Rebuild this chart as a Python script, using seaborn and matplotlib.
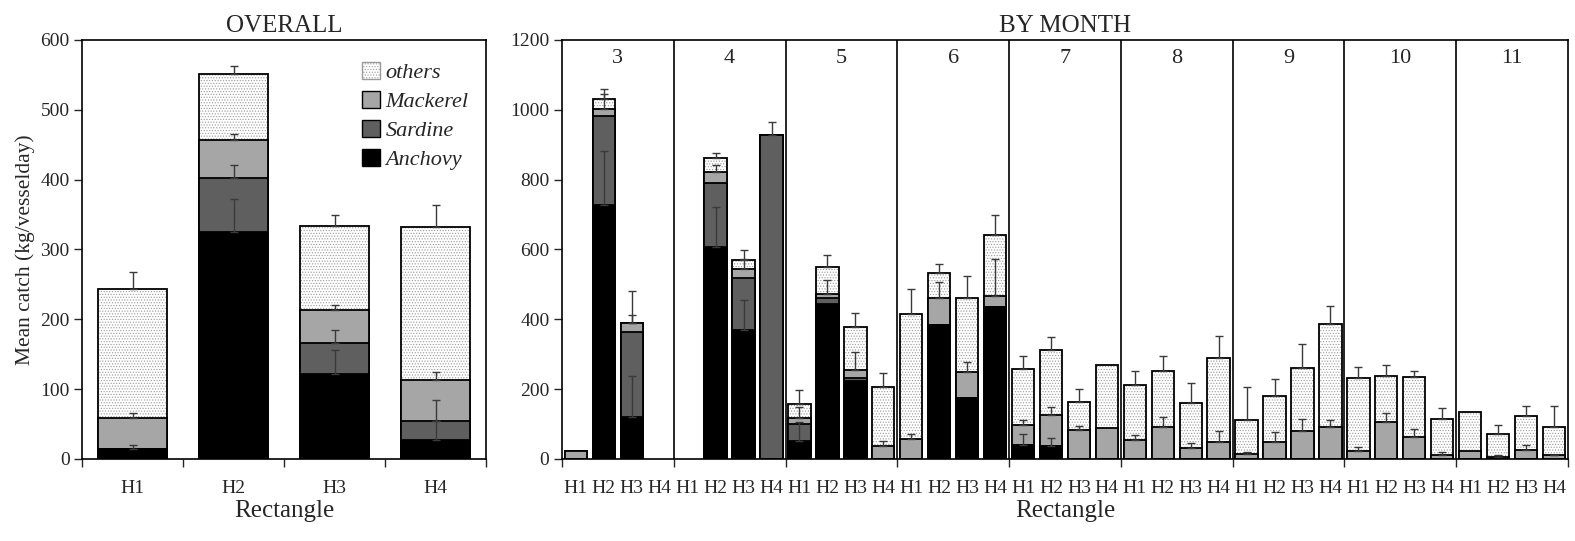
import numpy as np
import pandas as pd
import matplotlib
matplotlib.use("Agg")
import matplotlib.pyplot as plt
from matplotlib.patches import Patch
import seaborn as sns

# overall panel, one value per rectangle
rects = ["H1", "H2", "H3", "H4"]
all_anchovy = [15, 325, 122, 27]
all_sardine = [0, 77, 44, 28]
all_mackerel = [44, 55, 48, 58]
all_others = [185, 94, 119, 219]
all_err_total = [24, 12, 17, 32]
all_err_mackerel = [7, 8, 7, 12]
all_err_sardine = [0, 19, 19, 29]
all_err_anchovy = [5, 47, 34, 27]

# by month panel, 4 rectangles per month
months = [3, 4, 5, 6, 7, 8, 9, 10, 11]
m_anchovy = [0, 727, 120, 0,   0, 607, 370, 0,   52, 444, 222, 0,   0, 384, 176, 436,
             39, 37, 0, 0,     0, 0, 0, 0,       0, 0, 0, 0,        0, 0, 0, 0,     0, 0, 0, 0]
m_sardine = [0, 256, 243, 0,   0, 182, 148, 928, 48, 17, 10, 0,     0, 0, 0, 0,
             0, 0, 0, 0,       0, 0, 0, 0,       0, 0, 0, 0,        0, 0, 0, 0,     0, 0, 0, 0]
m_mackerel = [22, 19, 27, 0,   0, 32, 27, 0,     17, 11, 23, 37,    58, 77, 73, 31,
              58, 90, 83, 89,  53, 93, 31, 50,   13, 48, 79, 93,    22, 106, 62, 10, 22, 7, 27, 10]
m_others = [0, 29, 0, 0,       0, 42, 24, 0,     40, 78, 123, 169,  358, 72, 212, 174,
            162, 186, 79, 180, 160, 159, 128, 238, 98, 131, 182, 295, 209, 131, 172, 104, 112, 64, 95, 81]
m_err_total = [0, 29, 21, 0,   0, 13, 29, 38,    40, 34, 40, 40,    72, 26, 64, 57,
               36, 36, 39, 0,  39, 42, 59, 65,   95, 49, 67, 50,    33, 31, 19, 33,  0, 25, 29, 60]
m_err_mackerel = [0, 44, 90, 0, 0, 20, 29, 0,    31, 40, 52, 14,    14, 45, 29, 105,
                  15, 21, 12, 0, 17, 27, 15, 29, 6, 28, 35, 19,     11, 25, 23, 9,   0, 3, 12, 2]
m_err_anchovy = [0, 156, 119, 0, 0, 114, 84, 0,  53, 0, 0, 0,       0, 0, 0, 0,
                 32, 23, 0, 0,  0, 0, 0, 0,      0, 0, 0, 0,        0, 0, 0, 0,      0, 0, 0, 0]

C_ANCHOVY = "#000000"
C_SARDINE = "#5f5f5f"
C_MACKEREL = "#a6a6a6"
C_ERR = "#3a3a3a"
C_DOTS = "#9a9a9a"

sns.set_style("ticks")
plt.rcParams["font.family"] = ["Liberation Serif", "DejaVu Serif"]
plt.rcParams["hatch.linewidth"] = 0.5
plt.rcParams["hatch.color"] = C_DOTS


def stacked(ax, df, order, width):
    df = df.copy()
    df["c_anch"] = df["anchovy"]
    df["c_sard"] = df["c_anch"] + df["sardine"]
    df["c_mack"] = df["c_sard"] + df["mackerel"]
    df["c_tot"] = df["c_mack"] + df["others"]
    # empty slots get no bar at all
    for c in ["c_anch", "c_sard", "c_mack", "c_tot"]:
        df[c] = df[c].where(df[c] > 0)
    common = dict(data=df, x="slot", order=order, width=width, errorbar=None, ax=ax)
    sns.barplot(y="c_tot", color="white", edgecolor=C_DOTS, hatch="......", linewidth=0, **common)
    sns.barplot(y="c_tot", color="black", fill=False, linewidth=1.3, **common)
    sns.barplot(y="c_mack", color=C_MACKEREL, edgecolor="black", linewidth=1.3, saturation=1, **common)
    sns.barplot(y="c_sard", color=C_SARDINE, edgecolor="black", linewidth=1.3, saturation=1, **common)
    sns.barplot(y="c_anch", color=C_ANCHOVY, edgecolor="black", linewidth=1.3, saturation=1, **common)
    xs = np.arange(len(order))
    for top, err in [("c_tot", "e_tot"), ("c_mack", "e_mack"), ("c_sard", "e_sard"), ("c_anch", "e_anch")]:
        m = df[err].to_numpy() > 0
        ax.errorbar(xs[m], df[top].to_numpy()[m], yerr=[np.zeros(m.sum()), df[err].to_numpy()[m]],
                    fmt="none", ecolor=C_ERR, elinewidth=1.0, capsize=3, capthick=1.0)


fig = plt.figure(figsize=(15.75, 5.41), dpi=100)
ax1 = fig.add_axes([0.0521, 0.1516, 0.2565, 0.7745])
ax2 = fig.add_axes([0.3568, 0.1516, 0.6387, 0.7745])

# ---- overall
df1 = pd.DataFrame({
    "slot": rects, "anchovy": all_anchovy, "sardine": all_sardine,
    "mackerel": all_mackerel, "others": all_others,
    "e_tot": all_err_total, "e_mack": all_err_mackerel,
    "e_sard": all_err_sardine, "e_anch": all_err_anchovy,
})
stacked(ax1, df1, rects, 0.68)
ax1.set_xlim(-0.5, 3.5)
ax1.set_ylim(0, 600)
ax1.set_yticks(range(0, 601, 100))
ax1.set_xticks(np.arange(4))
ax1.set_xticklabels(rects)
ax1.set_xticks(np.arange(-0.5, 4, 1), minor=True)
ax1.tick_params(axis="x", which="major", length=0, pad=15, labelsize=14)
ax1.tick_params(axis="x", which="minor", length=6, width=1, direction="out")
ax1.tick_params(axis="y", length=6, width=1, direction="out", labelsize=14, pad=3)
ax1.set_xlabel("Rectangle", fontsize=18, labelpad=2)
ax1.set_ylabel("Mean catch (kg/vesselday)", fontsize=15.5, labelpad=4)
ax1.set_title("OVERALL", fontsize=18, pad=6)

handles = [Patch(facecolor="white", edgecolor=C_DOTS, hatch="......", label="others"),
           Patch(facecolor=C_MACKEREL, edgecolor="black", label="Mackerel"),
           Patch(facecolor=C_SARDINE, edgecolor="black", label="Sardine"),
           Patch(facecolor=C_ANCHOVY, edgecolor="black", label="Anchovy")]
ax1.legend(handles=handles, loc="upper left", bbox_to_anchor=(0.655, 0.985), frameon=False,
           prop={"style": "italic", "size": 16}, handlelength=0.8, handleheight=0.8,
           labelspacing=0.35, handletextpad=0.25, borderpad=0.2)

# ---- by month
slots = [f"{m}-{r}" for m in months for r in rects]
df2 = pd.DataFrame({
    "slot": slots, "anchovy": m_anchovy, "sardine": m_sardine,
    "mackerel": m_mackerel, "others": m_others,
    "e_tot": m_err_total, "e_mack": m_err_mackerel,
    "e_sard": [0] * len(slots), "e_anch": m_err_anchovy,
})
stacked(ax2, df2, slots, 0.8)
ax2.set_xlim(-0.5, len(slots) - 0.5)
ax2.set_ylim(0, 1200)
ax2.set_yticks(range(0, 1201, 200))
ax2.set_xticks(np.arange(len(slots)))
ax2.set_xticklabels(rects * len(months))
ax2.set_xticks(np.arange(-0.5, len(slots), 4), minor=True)
ax2.tick_params(axis="x", which="major", length=0, pad=15, labelsize=14)
ax2.tick_params(axis="x", which="minor", length=6, width=1, direction="out")
ax2.tick_params(axis="y", length=6, width=1, direction="out", labelsize=14, pad=3)
for i, m in enumerate(months):
    if i > 0:
        ax2.axvline(4 * i - 0.5, color="black", lw=1.2)
    ax2.text(4 * i + 1.5, 1148, str(m), ha="center", va="center", fontsize=16)
ax2.set_xlabel("Rectangle", fontsize=18, labelpad=2)
ax2.set_ylabel("")
ax2.set_title("BY MONTH", fontsize=18, pad=6)

for ax in (ax1, ax2):
    for s in ax.spines.values():
        s.set_visible(True)
        s.set_color("black")
        s.set_linewidth(1.2)

fig.savefig("out.png", dpi=100)
